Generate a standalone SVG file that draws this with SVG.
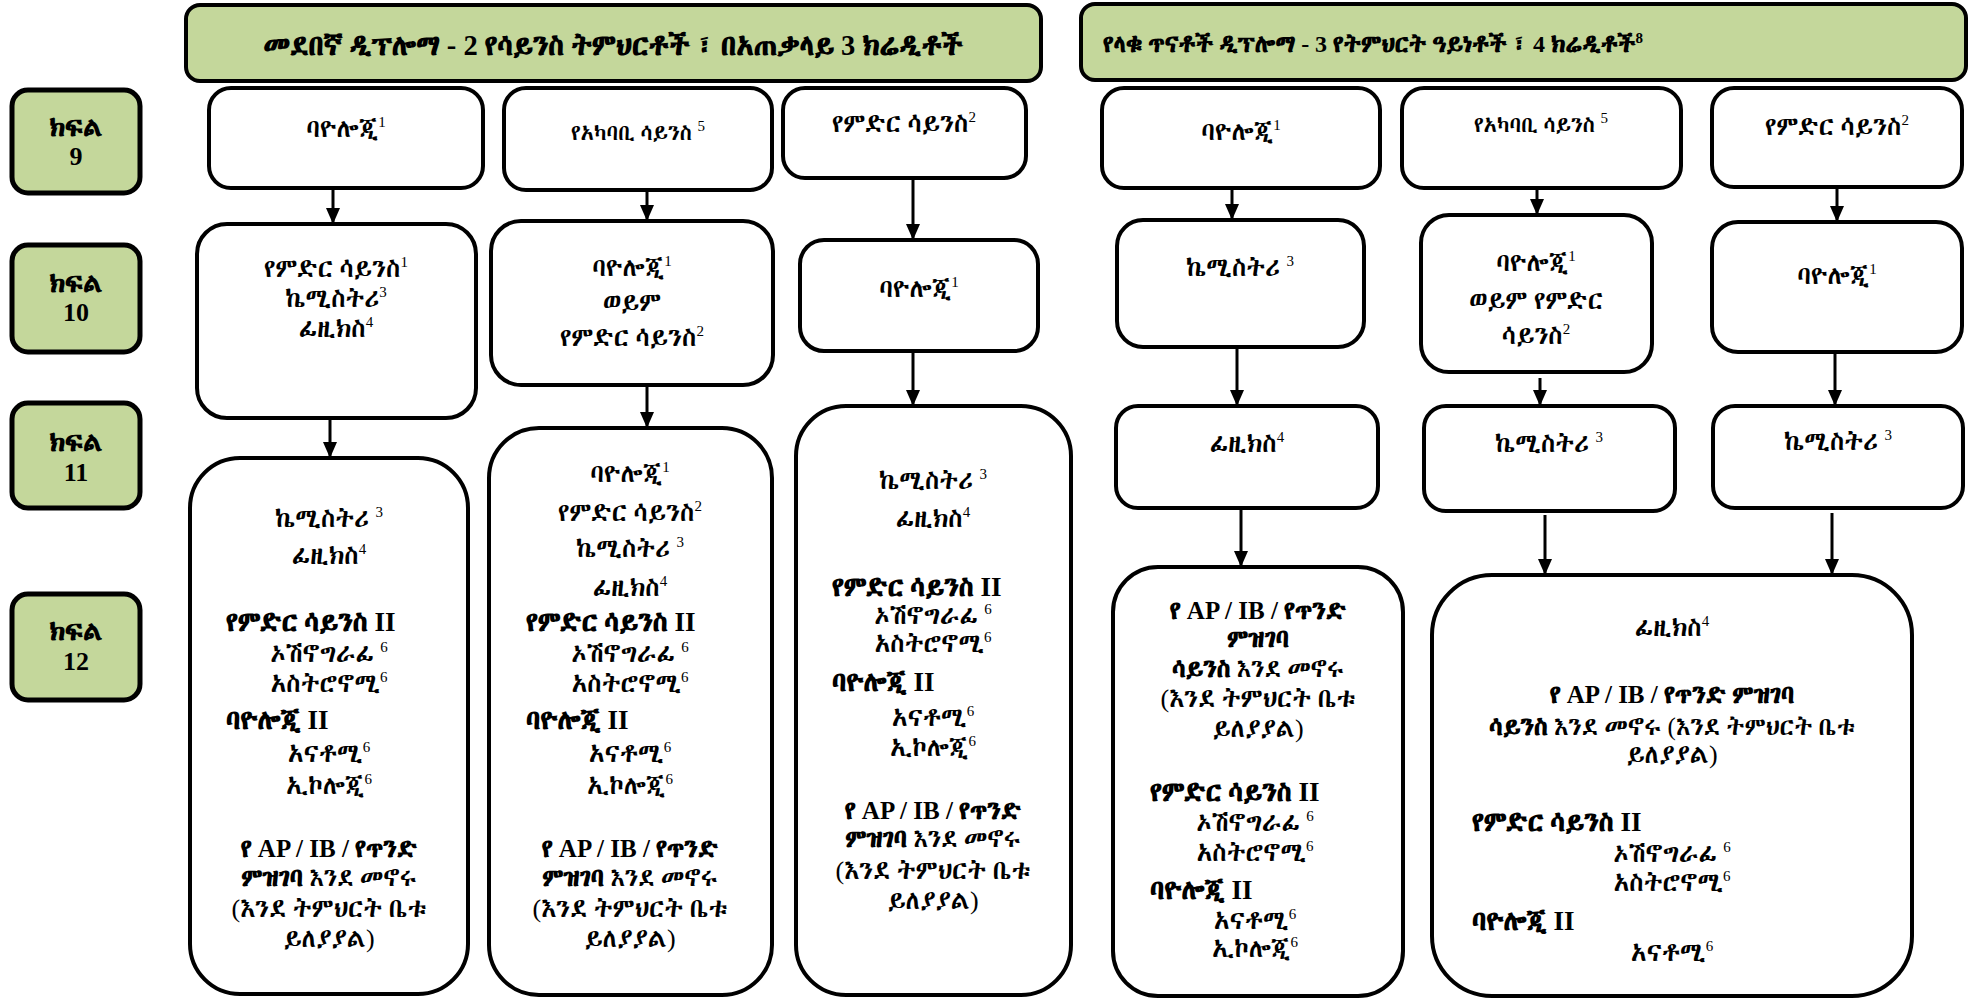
<svg xmlns="http://www.w3.org/2000/svg" width="1976" height="1000" viewBox="0 0 1976 1000">
<style>
.hdr{fill:#c4d79b;stroke:#000;stroke-width:4}
.grd{fill:#c4d79b;stroke:#000;stroke-width:5}
.box{fill:#fff;stroke:#000;stroke-width:4}
text{font-family:"Liberation Serif","Abyssinica SIL","Noto Serif Ethiopic","Noto Sans Ethiopic",serif;fill:#000}
.t{font-size:26px;text-anchor:middle}
.s{font-size:22px;text-anchor:middle}
.b{font-size:27px;font-weight:bold}
.bc{font-size:25px;font-weight:bold;text-anchor:middle}
.g{font-size:26px;font-weight:bold;text-anchor:middle}
.h1{font-size:28.5px;font-weight:bold;text-anchor:middle}
.h2{font-size:24px;font-weight:bold}
.sup{font-size:15px}
.w{font-weight:normal}
.con line{stroke:#000;stroke-width:3;marker-end:url(#ah)}
</style>
<defs>
<marker id="ah" markerUnits="userSpaceOnUse" markerWidth="16" markerHeight="14" refX="16" refY="7" orient="auto">
<path d="M0,0 L16,7 L0,14 z" fill="#000"/>
</marker>
</defs>

<g id="header1">
<rect class="hdr" x="186" y="5" width="855" height="76" rx="14"/>
<text class="h1" x="613" y="55">መደበኛ ዲፕሎማ - 2 የሳይንስ ትምህርቶች ፣ በአጠቃላይ 3 ክሬዲቶች</text>
</g>
<g id="header2">
<rect class="hdr" x="1081" y="4" width="885" height="76" rx="14"/>
<text class="h2" x="1103" y="52">የላቁ ጥናቶች ዲፕሎማ - 3 የትምህርት ዓይነቶች ፣ 4 ክሬዲቶች<tspan class="sup" dy="-9">8</tspan></text>
</g>

<g id="grade9">
<rect class="grd" x="12" y="90" width="128" height="103" rx="16"/>
<text class="g" x="76" y="136">ክፍል</text><text class="g" x="76" y="165">9</text>
</g>
<g id="grade10">
<rect class="grd" x="12" y="245" width="128" height="107" rx="16"/>
<text class="g" x="76" y="292">ክፍል</text><text class="g" x="76" y="321">10</text>
</g>
<g id="grade11">
<rect class="grd" x="12" y="403" width="128" height="105" rx="16"/>
<text class="g" x="76" y="451">ክፍል</text><text class="g" x="76" y="481">11</text>
</g>
<g id="grade12">
<rect class="grd" x="12" y="594" width="128" height="106" rx="16"/>
<text class="g" x="76" y="640">ክፍል</text><text class="g" x="76" y="670">12</text>
</g>

<g id="a1">
<rect class="box" x="209" y="88" width="274" height="100" rx="22"/>
<text class="t" x="346" y="137">ባዮሎጂ<tspan class="sup" dy="-10">1</tspan></text>
</g>
<g id="a2">
<rect class="box" x="504" y="88" width="268" height="102" rx="22"/>
<text class="s" x="638" y="140">የአካባቢ ሳይንስ <tspan class="sup" dy="-9">5</tspan></text>
</g>
<g id="a3">
<rect class="box" x="783" y="88" width="243" height="90" rx="22"/>
<text class="t" x="904" y="132">የምድር ሳይንስ<tspan class="sup" dy="-10">2</tspan></text>
</g>
<g id="b1">
<rect class="box" x="1102" y="88" width="278" height="100" rx="22"/>
<text class="t" x="1241" y="140">ባዮሎጂ<tspan class="sup" dy="-10">1</tspan></text>
</g>
<g id="b2">
<rect class="box" x="1402" y="88" width="279" height="100" rx="22"/>
<text class="s" x="1541" y="132">የአካባቢ ሳይንስ <tspan class="sup" dy="-9">5</tspan></text>
</g>
<g id="b3">
<rect class="box" x="1712" y="88" width="250" height="99" rx="22"/>
<text class="t" x="1837" y="135">የምድር ሳይንስ<tspan class="sup" dy="-10">2</tspan></text>
</g>

<g id="c1">
<rect class="box" x="197" y="224" width="279" height="194" rx="30"/>
<text class="t" x="336" y="277">የምድር ሳይንስ<tspan class="sup" dy="-10">1</tspan></text>
<text class="t" x="336" y="307">ኬሚስትሪ<tspan class="sup" dy="-10">3</tspan></text>
<text class="t" x="336" y="337">ፊዚክስ<tspan class="sup" dy="-10">4</tspan></text>
</g>
<g id="c2">
<rect class="box" x="491" y="221" width="282" height="164" rx="30"/>
<text class="t" x="632" y="276">ባዮሎጂ<tspan class="sup" dy="-10">1</tspan></text>
<text class="t" x="632" y="311">ወይም</text>
<text class="t" x="632" y="346">የምድር ሳይንስ<tspan class="sup" dy="-10">2</tspan></text>
</g>
<g id="c3">
<rect class="box" x="800" y="240" width="238" height="111" rx="24"/>
<text class="t" x="919" y="297">ባዮሎጂ<tspan class="sup" dy="-10">1</tspan></text>
</g>
<g id="d1">
<rect class="box" x="1117" y="220" width="247" height="127" rx="26"/>
<text class="t" x="1240" y="276">ኬሚስትሪ <tspan class="sup" dy="-10">3</tspan></text>
</g>
<g id="d2">
<rect class="box" x="1421" y="215" width="231" height="157" rx="28"/>
<text class="t" x="1536" y="271">ባዮሎጂ<tspan class="sup" dy="-10">1</tspan></text>
<text class="t" x="1536" y="309">ወይም የምድር</text>
<text class="t" x="1536" y="344">ሳይንስ<tspan class="sup" dy="-10">2</tspan></text>
</g>
<g id="d3">
<rect class="box" x="1712" y="222" width="250" height="130" rx="26"/>
<text class="t" x="1837" y="284">ባዮሎጂ<tspan class="sup" dy="-10">1</tspan></text>
</g>

<g id="f1">
<rect class="box" x="1116" y="406" width="262" height="102" rx="22"/>
<text class="t" x="1247" y="452">ፊዚክስ<tspan class="sup" dy="-10">4</tspan></text>
</g>
<g id="f2">
<rect class="box" x="1424" y="406" width="251" height="105" rx="22"/>
<text class="t" x="1549" y="452">ኬሚስትሪ <tspan class="sup" dy="-10">3</tspan></text>
</g>
<g id="f3">
<rect class="box" x="1713" y="406" width="250" height="102" rx="22"/>
<text class="t" x="1838" y="450">ኬሚስትሪ <tspan class="sup" dy="-10">3</tspan></text>
</g>

<g id="e1">
<rect class="box" x="190" y="458" width="278" height="536" rx="50"/>
<text class="t" x="329" y="527">ኬሚስትሪ <tspan class="sup" dy="-10">3</tspan></text>
<text class="t" x="329" y="564">ፊዚክስ<tspan class="sup" dy="-10">4</tspan></text>
<text class="b" x="226" y="631">የምድር ሳይንስ II</text>
<text class="t" x="329" y="662">ኦሽኖግራፊ <tspan class="sup" dy="-10">6</tspan></text>
<text class="t" x="329" y="692">አስትሮኖሚ<tspan class="sup" dy="-10">6</tspan></text>
<text class="b" x="226" y="729">ባዮሎጂ II</text>
<text class="t" x="329" y="762">አናቶሚ<tspan class="sup" dy="-10">6</tspan></text>
<text class="t" x="329" y="794">ኢኮሎጂ<tspan class="sup" dy="-10">6</tspan></text>
<text class="bc" x="329" y="857">የ AP / IB / የጥንድ</text>
<text class="bc" x="329" y="886">ምዝገባ<tspan class="w"> እንደ መኖሩ</tspan></text>
<text class="t" x="329" y="917">(እንደ ትምህርት ቤቱ</text>
<text class="t" x="329" y="947">ይለያያል)</text>
</g>
<g id="e2">
<rect class="box" x="489" y="428" width="283" height="567" rx="50"/>
<text class="t" x="630" y="482">ባዮሎጂ<tspan class="sup" dy="-10">1</tspan></text>
<text class="t" x="630" y="521">የምድር ሳይንስ<tspan class="sup" dy="-10">2</tspan></text>
<text class="t" x="630" y="557">ኬሚስትሪ <tspan class="sup" dy="-10">3</tspan></text>
<text class="t" x="630" y="596">ፊዚክስ<tspan class="sup" dy="-10">4</tspan></text>
<text class="b" x="526" y="631">የምድር ሳይንስ II</text>
<text class="t" x="630" y="662">ኦሽኖግራፊ <tspan class="sup" dy="-10">6</tspan></text>
<text class="t" x="630" y="692">አስትሮኖሚ<tspan class="sup" dy="-10">6</tspan></text>
<text class="b" x="526" y="729">ባዮሎጂ II</text>
<text class="t" x="630" y="762">አናቶሚ<tspan class="sup" dy="-10">6</tspan></text>
<text class="t" x="630" y="794">ኢኮሎጂ<tspan class="sup" dy="-10">6</tspan></text>
<text class="bc" x="630" y="857">የ AP / IB / የጥንድ</text>
<text class="bc" x="630" y="886">ምዝገባ<tspan class="w"> እንደ መኖሩ</tspan></text>
<text class="t" x="630" y="917">(እንደ ትምህርት ቤቱ</text>
<text class="t" x="630" y="947">ይለያያል)</text>
</g>
<g id="e3">
<rect class="box" x="796" y="406" width="275" height="589" rx="50"/>
<text class="t" x="933" y="489">ኬሚስትሪ <tspan class="sup" dy="-10">3</tspan></text>
<text class="t" x="933" y="527">ፊዚክስ<tspan class="sup" dy="-10">4</tspan></text>
<text class="b" x="832" y="596">የምድር ሳይንስ II</text>
<text class="t" x="933" y="624">ኦሽኖግራፊ <tspan class="sup" dy="-10">6</tspan></text>
<text class="t" x="933" y="652">አስትሮኖሚ<tspan class="sup" dy="-10">6</tspan></text>
<text class="b" x="832" y="691">ባዮሎጂ II</text>
<text class="t" x="933" y="726">አናቶሚ<tspan class="sup" dy="-10">6</tspan></text>
<text class="t" x="933" y="756">ኢኮሎጂ<tspan class="sup" dy="-10">6</tspan></text>
<text class="bc" x="933" y="819">የ AP / IB / የጥንድ</text>
<text class="bc" x="933" y="847">ምዝገባ<tspan class="w"> እንደ መኖሩ</tspan></text>
<text class="t" x="933" y="879">(እንደ ትምህርት ቤቱ</text>
<text class="t" x="933" y="909">ይለያያል)</text>
</g>
<g id="g1">
<rect class="box" x="1113" y="567" width="290" height="429" rx="45"/>
<text class="bc" x="1258" y="619">የ AP / IB / የጥንድ</text>
<text class="bc" x="1258" y="647">ምዝገባ</text>
<text class="bc" x="1258" y="677">ሳይንስ<tspan class="w"> እንደ መኖሩ</tspan></text>
<text class="t" x="1258" y="707">(እንደ ትምህርት ቤቱ</text>
<text class="t" x="1258" y="737">ይለያያል)</text>
<text class="b" x="1150" y="801">የምድር ሳይንስ II</text>
<text class="t" x="1255" y="831">ኦሽኖግራፊ <tspan class="sup" dy="-10">6</tspan></text>
<text class="t" x="1255" y="861">አስትሮኖሚ<tspan class="sup" dy="-10">6</tspan></text>
<text class="b" x="1150" y="899">ባዮሎጂ II</text>
<text class="t" x="1255" y="929">አናቶሚ<tspan class="sup" dy="-10">6</tspan></text>
<text class="t" x="1255" y="957">ኢኮሎጂ<tspan class="sup" dy="-10">6</tspan></text>
</g>
<g id="g2">
<rect class="box" x="1432" y="575" width="480" height="421" rx="60"/>
<text class="t" x="1672" y="636">ፊዚክስ<tspan class="sup" dy="-10">4</tspan></text>
<text class="bc" x="1672" y="703">የ AP / IB / የጥንድ ምዝገባ</text>
<text class="bc" x="1672" y="735">ሳይንስ<tspan class="w"> እንደ መኖሩ (እንደ ትምህርት ቤቱ</tspan></text>
<text class="t" x="1672" y="763">ይለያያል)</text>
<text class="b" x="1472" y="831">የምድር ሳይንስ II</text>
<text class="t" x="1672" y="862">ኦሽኖግራፊ <tspan class="sup" dy="-10">6</tspan></text>
<text class="t" x="1672" y="891">አስትሮኖሚ<tspan class="sup" dy="-10">6</tspan></text>
<text class="b" x="1472" y="930">ባዮሎጂ II</text>
<text class="t" x="1672" y="961">አናቶሚ<tspan class="sup" dy="-10">6</tspan></text>
</g>

<g id="connectors" class="con">
<line x1="333" y1="189" x2="333" y2="224"/>
<line x1="647" y1="190" x2="647" y2="221"/>
<line x1="913" y1="180" x2="913" y2="240"/>
<line x1="330" y1="418" x2="330" y2="458"/>
<line x1="647" y1="385" x2="647" y2="428"/>
<line x1="913" y1="351" x2="913" y2="406"/>
<line x1="1232" y1="188" x2="1232" y2="220"/>
<line x1="1537" y1="190" x2="1537" y2="215"/>
<line x1="1837" y1="187" x2="1837" y2="222"/>
<line x1="1237" y1="347" x2="1237" y2="406"/>
<line x1="1540" y1="378" x2="1540" y2="406"/>
<line x1="1835" y1="352" x2="1835" y2="406"/>
<line x1="1241" y1="508" x2="1241" y2="567"/>
<line x1="1545" y1="515" x2="1545" y2="575"/>
<line x1="1832" y1="513" x2="1832" y2="575"/>
</g>
</svg>
